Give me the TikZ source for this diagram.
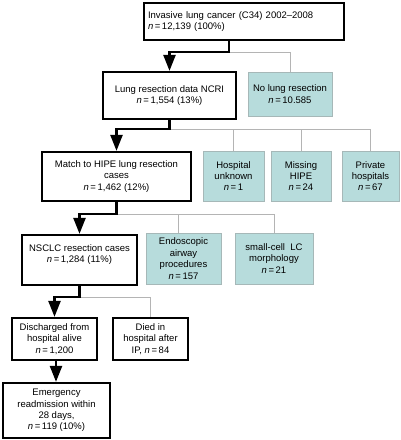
\documentclass[tikz,border=0pt]{standalone}
\usepackage{fontspec}
\setmainfont{Liberation Sans}
\usetikzlibrary{arrows.meta}
\definecolor{tealbox}{HTML}{B7DCDC}
\definecolor{tealedge}{HTML}{A6B8B8}
\definecolor{grayline}{HTML}{B4B4B4}
\newcommand{\nn}{\textit{n}\,=\,}
\begin{document}
\begin{tikzpicture}[x=1pt,y=-1pt,
  every node/.style={font=\fontsize{9.5}{11.4}\selectfont, inner sep=2pt},
  mainbox/.style={draw=black, line width=2.3pt, fill=white, align=center},
  sidebox/.style={draw=tealedge, line width=1pt, fill=tealbox, align=center},
  mainline/.style={draw=black, line width=2.5pt, line join=miter},
  mainarrow/.style={mainline, -{Triangle[length=16pt,width=12pt]}},
  sideline/.style={draw=grayline, line width=1pt}]
\useasboundingbox (0,0) rectangle (400,440);
% main boxes
\node[mainbox, minimum width=200pt, minimum height=37pt, text width=192pt, align=left] (top) at (244,21.5)
  {Invasive lung cancer (C34) 2002--2008\\\nn12,139 (100\%)};
\node[mainbox, minimum width=133pt, minimum height=47pt] (lrd) at (169.5,95.5)
  {Lung resection data NCRI\\\nn1,554 (13\%)};
\node[mainbox, minimum width=149pt, minimum height=49pt] (match) at (116.5,176.5)
  {Match to HIPE lung resection\\cases\\\nn1,462 (12\%)};
\node[mainbox, minimum width=115pt, minimum height=50pt] (nsclc) at (79.5,260)
  {NSCLC resection cases\\\nn1,284 (11\%)\\[2pt]};
\node[mainbox, minimum width=85pt, minimum height=42pt] (dis) at (54.5,339)
  {Discharged from\\hospital alive\\\nn1,200};
\node[mainbox, minimum width=75pt, minimum height=42pt] (died) at (150.5,339)
  {Died in\\hospital after\\IP, \nn84};
\node[mainbox, minimum width=107pt, minimum height=55pt] (em) at (56.5,410.5)
  {Emergency\\readmission within\\28 days,\\\nn119 (10\%)};
% side boxes
\node[sidebox, minimum width=84pt, minimum height=44pt] (nlr) at (290,94)
  {No lung resection\\\nn10.585};
\node[sidebox, minimum width=61pt, minimum height=50pt] (hu) at (233.5,176)
  {Hospital\\unknown\\\nn1};
\node[sidebox, minimum width=60pt, minimum height=50pt] (mh) at (301,176)
  {Missing\\HIPE\\\nn24};
\node[sidebox, minimum width=57pt, minimum height=50pt] (ph) at (370.5,176)
  {Private\\hospitals\\\nn67};
\node[sidebox, minimum width=75pt, minimum height=51pt] (endo) at (183.5,258.5)
  {Endoscopic\\airway\\procedures\\\nn157};
\node[sidebox, minimum width=78pt, minimum height=51pt] (sc) at (274,258.5)
  {small-cell~~LC\\morphology\\\nn21};
% connectors
\coordinate (j1) at ([xshift=-15pt,yshift=-11pt]top.south);
\draw[sideline] (j1) -| (nlr.north);
\draw[mainarrow] ([xshift=-15pt]top.south) -- (j1) -| (lrd.north);

\coordinate (j2) at ([yshift=-9pt]lrd.south);
\draw[sideline] (j2) -| (ph.north);
\draw[sideline] (j2) -| (hu.north);
\draw[sideline] (j2) -| (mh.north);
\draw[mainarrow] (lrd.south) -- (j2) -| (match.north);

\coordinate (j3) at ([yshift=-12pt]match.south);
\draw[sideline] (j3) -| (sc.north);
\draw[sideline] (j3) -| ([xshift=-5pt]endo.north);
\draw[mainarrow] (match.south) -- (j3) -| (nsclc.north);

\coordinate (j4) at ([yshift=-11pt]nsclc.south);
\draw[sideline] (j4) -| (died.north);
\draw[mainarrow] (nsclc.south) -- (j4) -| (dis.north);

\draw[mainarrow] ([xshift=1.5pt]dis.south) -- ([xshift=1.5pt]dis.south |- em.north);
\end{tikzpicture}
\end{document}
